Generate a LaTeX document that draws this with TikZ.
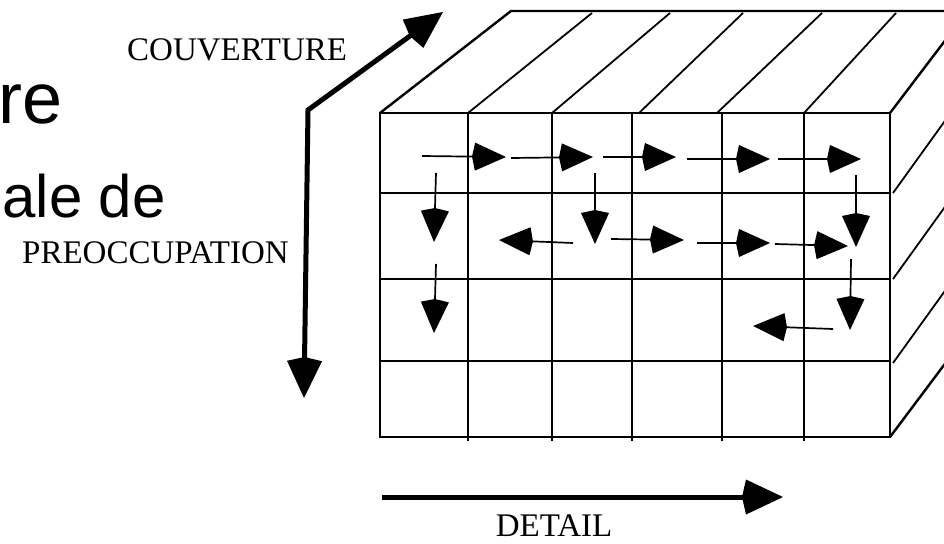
\documentclass[tikz,border=0pt]{standalone}
\usepackage{fontspec}
\setmainfont{Liberation Serif}
\newfontfamily\titlefont{Liberation Sans}
\usepackage{tikz}
\usetikzlibrary{arrows.meta}

\begin{document}
\begin{tikzpicture}[x=1pt, y=-1pt,
		boxedge/.style={line width=2.4pt},
		cellline/.style={line width=1.8pt},
		walk/.style={line width=1.7pt, -{Kite[length=34pt, width=28pt, inset=3pt]}},
		axisline/.style={line width=5pt},
		bighead/.tip={Kite[length=41pt, width=35pt, inset=4pt]},
		axislabel/.style={inner sep=0pt, font=\fontsize{33}{36}\selectfont}]
	\useasboundingbox (0,0) rectangle (944,543);
	\clip (0,0) rectangle (944,543);
	
	% Title (cut at the left)
	\node[anchor=base east, inner sep=0pt] (titreA) at (63,123) {\titlefont\fontsize{72}{80}\selectfont re};
	\node[anchor=base east, inner sep=0pt] (titreB) at (166,217) {\titlefont\fontsize{60}{68}\selectfont ale de};
	
	% Axis labels
	\node[axislabel, anchor=base west] (couverture) at (127,60) {COUVERTURE};
	\node[axislabel, anchor=base west] (preoccupation) at (22,263) {PREOCCUPATION};
	\node[axislabel, anchor=base] (detail) at (554,536) {DETAIL};
	
	% Axes
	\draw[axisline, bighead-bighead] (443,12) -- (308,110) -- (304,398);
	\draw[axisline, -bighead] (382,497) -- (783,497);
	
	% Top face
	\draw[boxedge] (380,113) -- (511,11) -- (990,11);
	\foreach \a/\b in {468/592, 552/670, 639/743, 717/822, 804/896}
		\draw[cellline] (\a,113) -- (\b,13);
	\draw[boxedge] (890,113) -- ++(76,-100);
	
	% Side face
	\foreach \y in {193,279,363}
		\draw[cellline] (893,\y) -- ++(72,-100);
	\draw[boxedge] (890,437) -- ++(75,-100);
	
	% Front face, 6 x 4 cells
	\foreach \x in {468,552,632,722,804}
		\draw[cellline] (\x,113) -- (\x,441);
	\foreach \y in {193,279,361}
		\draw[cellline] (380,\y) -- (890,\y);
	\draw[boxedge] (380,113) rectangle (890,437);
	
	% Path through the cells
	\draw[walk] (422,156) -- (506,157);
	\draw[walk] (511,158) -- (593,157);
	\draw[walk] (603,157) -- (676,157);
	\draw[walk] (687,159) -- (770,159);
	\draw[walk] (778,159) -- (861,159);
	\draw[walk] (436,173) -- (434,242);
	\draw[walk] (436,264) -- (434,333);
	\draw[walk] (595,173) -- (595,244);
	\draw[walk] (856,175) -- (856,247);
	\draw[walk] (851,259) -- (850,330);
	\draw[walk] (573,243) -- (499,240);
	\draw[walk] (611,239) -- (684,240);
	\draw[walk] (697,243) -- (770,243);
	\draw[walk] (775,244) -- (848,246);
	\draw[walk] (833,329) -- (753,326);
\end{tikzpicture}
\end{document}
